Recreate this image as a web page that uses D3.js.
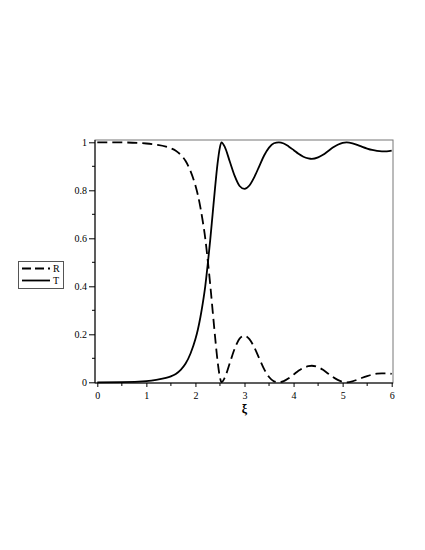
<!DOCTYPE html>
<html>
<head>
<meta charset="utf-8">
<script src="https://cdn.jsdelivr.net/npm/d3@7"></script>
<style>
  html, body { margin: 0; padding: 0; background: #fff; }
  svg { display: block; }
  text { font-family: "Liberation Serif", "DejaVu Serif", serif; fill: #000; }
</style>
</head>
<body>
<svg id="chart" width="425" height="550"></svg>
<script>
// ---- data ----
const xi = [0, 0.5, 1.0, 1.2, 1.4, 1.5, 1.6, 1.7, 1.8, 1.9, 2.0, 2.05, 2.1, 2.15, 2.2, 2.25, 2.3, 2.35, 2.4, 2.45, 2.5, 2.53,
  2.6, 2.7, 2.8, 2.9, 3.0, 3.1, 3.2, 3.3, 3.4, 3.5, 3.6, 3.7, 3.8, 3.9, 4.0, 4.1, 4.2, 4.3, 4.37, 4.5, 4.6, 4.7, 4.8, 4.9,
  5.0, 5.08, 5.2, 5.3, 5.4, 5.5, 5.6, 5.7, 5.8, 5.9, 6.0];
const R = [1.000, 0.9995, 0.995, 0.990, 0.982, 0.975, 0.965, 0.948, 0.922, 0.88, 0.82, 0.78, 0.73, 0.67, 0.60, 0.51, 0.41, 0.30, 0.19, 0.09, 0.02, 0.0,
  0.02, 0.08, 0.14, 0.182, 0.194, 0.18, 0.145, 0.10, 0.055, 0.022, 0.004, 0.0, 0.005, 0.017, 0.032, 0.048, 0.06, 0.067, 0.069, 0.063, 0.052, 0.037, 0.022, 0.01,
  0.002, 0.0, 0.004, 0.011, 0.019, 0.026, 0.032, 0.036, 0.0375, 0.0375, 0.035];
const T = [0.000, 0.0005, 0.005, 0.010, 0.018, 0.025, 0.035, 0.052, 0.078, 0.12, 0.18, 0.22, 0.27, 0.33, 0.40, 0.49, 0.59, 0.70, 0.81, 0.91, 0.98, 1.0,
  0.98, 0.92, 0.86, 0.818, 0.806, 0.82, 0.855, 0.90, 0.945, 0.978, 0.996, 1.0, 0.995, 0.983, 0.968, 0.952, 0.94, 0.933, 0.931, 0.937, 0.948, 0.963, 0.978, 0.99,
  0.998, 1.0, 0.996, 0.989, 0.981, 0.974, 0.968, 0.964, 0.9625, 0.9625, 0.965];
const xTicks = [0, 1, 2, 3, 4, 5, 6];
const yTicks = [0, 0.2, 0.4, 0.6, 0.8, 1];
const xMinor = [0.5, 1.5, 2.5, 3.5, 4.5, 5.5];
const yMinor = [0.1, 0.3, 0.5, 0.7, 0.9];
const seriesNames = ["R", "T"];
const xLabel = "ξ";

// ---- layout ----
const svg = d3.select("#chart");
const x = d3.scaleLinear().domain([0, 6]).range([97.3, 391.7]);
const y = d3.scaleLinear().domain([0, 1]).range([382.3, 142.3]);
const box = { left: 95, right: 393, top: 140, bottom: 383 };

// frame
svg.append("rect")
  .attr("x", box.left).attr("y", box.top)
  .attr("width", box.right - box.left).attr("height", box.bottom - box.top)
  .attr("fill", "none").attr("stroke", "#777").attr("stroke-width", 1);

// y axis
const yAxis = d3.axisLeft(y).tickValues(yTicks).tickSize(6).tickPadding(2)
  .tickFormat(d => d === 0 || d === 1 ? String(d) : d3.format(".1f")(d));
const gy = svg.append("g").attr("transform", `translate(${box.left},0)`).call(yAxis);
gy.select(".domain").attr("d", `M0,${box.top}V${box.bottom}`).attr("stroke", "#000");
gy.selectAll("text").style("font-size", "10px").style("font-family", "Liberation Serif, serif").attr("fill", "#000");
svg.append("g").selectAll("line").data(yMinor).join("line")
  .attr("x1", box.left - 3).attr("x2", box.left)
  .attr("y1", d => y(d)).attr("y2", d => y(d)).attr("stroke", "#000");

// x axis
const xAxis = d3.axisBottom(x).tickValues(xTicks).tickSize(4).tickPadding(5).tickFormat(d3.format("d"));
const gx = svg.append("g").attr("transform", `translate(0,${box.bottom})`).call(xAxis);
gx.select(".domain").attr("d", `M${box.left},0H${box.right}`).attr("stroke", "#000");
gx.selectAll("text").style("font-size", "10px").style("font-family", "Liberation Serif, serif").attr("fill", "#000");
svg.append("g").selectAll("line").data(xMinor).join("line")
  .attr("x1", d => x(d)).attr("x2", d => x(d))
  .attr("y1", box.bottom).attr("y2", box.bottom + 3).attr("stroke", "#000");

svg.append("text").attr("x", x(3)).attr("y", 413).attr("text-anchor", "middle")
  .style("font-size", "12px").style("font-weight", "bold").text(xLabel);

// curves
const pts = (vals) => xi.map((d, i) => [d, vals[i]]);
const line = d3.line().x(d => x(d[0])).y(d => y(d[1])).curve(d3.curveMonotoneX);
svg.append("path").datum(pts(R)).attr("d", line)
  .attr("fill", "none").attr("stroke", "#000").attr("stroke-width", 1.8).attr("stroke-dasharray", "10,5");
svg.append("path").datum(pts(T)).attr("d", line)
  .attr("fill", "none").attr("stroke", "#000").attr("stroke-width", 1.8);

// legend
const lg = svg.append("g");
lg.append("rect").attr("x", 18.5).attr("y", 261.5).attr("width", 45).attr("height", 27)
  .attr("fill", "#fff").attr("stroke", "#555").attr("stroke-width", 1);
const dashes = ["9,4", null];
seriesNames.forEach((name, i) => {
  const yy = 268.5 + i * 12;
  lg.append("line").attr("x1", 22).attr("x2", 50).attr("y1", yy).attr("y2", yy)
    .attr("stroke", "#000").attr("stroke-width", 1.8).attr("stroke-dasharray", dashes[i]);
  lg.append("text").attr("x", 53).attr("y", yy + 3.5).style("font-size", "10px").text(name);
});
</script>
</body>
</html>
